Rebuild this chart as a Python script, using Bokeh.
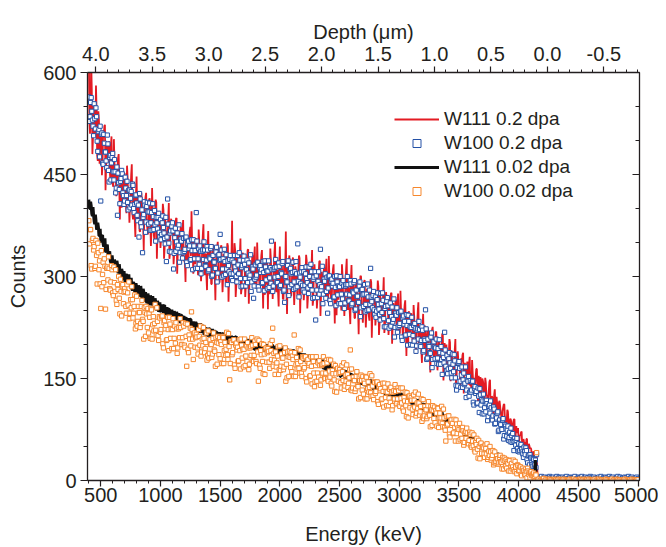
import numpy as np
from bokeh.plotting import figure
from bokeh.models import (Range1d, LinearAxis, SingleIntervalTicker, PrintfTickFormatter,
                          Legend, LegendItem)
from bokeh.embed import file_html
from bokeh.resources import INLINE

# ---------------- data: counts per channel ----------------
# set "a": channels at 400, 410, 420 ... keV ; set "b": channels at 405, 415, 425 ... keV
energy_start = 400
energy_step = 10
offset_b = 5

w111_02 = [
    640, 510, 616, 480, 556, 506, 581, 478, 543, 466,
    509, 449, 515, 521, 427, 498, 468, 499, 442, 506,
    436, 502, 440, 418, 460, 480, 384, 441, 458, 412,
    452, 407, 463, 413, 379, 429, 465, 384, 416, 358,
    447, 380, 406, 366, 423, 387, 339, 407, 423, 371,
    375, 415, 345, 430, 386, 352, 413, 326, 396, 384,
    342, 382, 407, 326, 386, 366, 349, 408, 334, 385,
    368, 318, 375, 385, 304, 368, 344, 373, 326, 383,
    323, 292, 330, 313, 353, 373, 396, 341, 358, 318,
    356, 316, 369, 323, 293, 342, 377, 302, 333, 280,
    367, 301, 328, 289, 347, 312, 265, 334, 351, 300,
    305, 346, 277, 333, 320, 287, 349, 263, 334, 323,
    382, 324, 349, 270, 330, 312, 296, 356, 283, 335,
    319, 270, 328, 339, 260, 324, 301, 332, 285, 344,
    285, 350, 294, 277, 318, 339, 253, 310, 327, 288,
    252, 288, 341, 296, 267, 316, 351, 277, 309, 256,
    344, 279, 306, 267, 325, 366, 245, 314, 331, 280,
    286, 328, 258, 315, 302, 269, 331, 246, 316, 306,
    265, 307, 332, 253, 313, 295, 279, 339, 266, 318,
    302, 253, 311, 322, 242, 307, 283, 314, 267, 326,
    266, 330, 274, 257, 298, 318, 231, 288, 305, 266,
    304, 264, 318, 272, 242, 291, 326, 251, 282, 230,
    317, 251, 278, 239, 296, 262, 215, 283, 300, 249,
    254, 295, 225, 282, 268, 235, 296, 210, 281, 270,
    228, 269, 294, 214, 274, 256, 239, 299, 225, 277,
    259, 214, 268, 275, 201, 261, 240, 266, 222, 275,
    220, 279, 226, 208, 245, 265, 183, 235, 249, 211,
    246, 209, 258, 215, 186, 230, 262, 194, 222, 173,
    245, 193, 212, 182, 225, 198, 159, 214, 226, 184,
    186, 219, 162, 206, 193, 168, 216, 147, 202, 191,
    158, 191, 208, 146, 191, 176, 163, 208, 151, 190,
    175, 139, 180, 185, 128, 173, 155, 175, 141, 182,
    140, 177, 141, 130, 153, 164, 111, 143, 152, 127,
    147, 124, 151, 125, 108, 132, 148, 107, 122, 93,
    134, 102, 113, 93, 117, 99, 75, 107, 112, 86,
    87, 101, 71, 91, 83, 69, 90, 54, 80, 72,
    58, 67, 71, 48, 61, 55, 48, 61, 40, 51,
    48, 35, 41, 27, 38, 43,
    0, 0, 1, 0, 0, 0, 1, 0, 0, 0,
    0, 1, 0, 0, 0, 0, 0, 1, 0, 0,
    0, 0, 0, 1, 0, 0, 0, 0, 1, 0,
    0, 0, 1, 0, 0, 0, 0, 0, 0, 1,
    0, 0, 0, 0, 1, 0, 0, 0, 0, 0,
    1, 0, 0, 0, 0, 0, 1, 0, 0, 0,
    0, 0, 1, 0, 0, 0, 0, 0, 1, 0,
    0, 0, 0, 0, 0, 1, 0, 0, 0, 0,
    0, 1, 0, 0, 0,
]

w111_02_b = [
    529, 551, 574, 504, 531, 511, 545, 470, 529, 512,
    509, 467, 504, 523, 463, 472, 487, 460, 492, 438,
    432, 467, 455, 433, 474, 434, 458, 401, 442, 451,
    440, 393, 445, 416, 404, 450, 392, 417, 380, 422,
    399, 422, 367, 414, 405, 378, 396, 417, 380, 362,
    413, 378, 368, 392, 360, 393, 409, 363, 374, 393,
    355, 375, 398, 342, 367, 354, 385, 326, 377, 366,
    367, 334, 367, 386, 335, 346, 361, 339, 369, 324,
    320, 354, 345, 326, 366, 330, 354, 304, 343, 354,
    345, 302, 352, 326, 316, 362, 309, 333, 300, 340,
    319, 343, 289, 337, 329, 303, 322, 344, 308, 291,
    343, 309, 300, 325, 294, 328, 345, 300, 312, 332,
    295, 317, 340, 286, 311, 300, 332, 274, 326, 316,
    318, 286, 320, 340, 291, 302, 318, 298, 328, 285,
    282, 317, 309, 290, 331, 296, 322, 273, 312, 324,
    316, 274, 324, 299, 290, 336, 283, 308, 276, 316,
    296, 321, 267, 315, 307, 282, 302, 324, 288, 271,
    324, 291, 281, 307, 276, 310, 327, 283, 294, 315,
    278, 300, 323, 269, 294, 283, 315, 257, 309, 299,
    301, 269, 303, 323, 273, 285, 300, 280, 310, 267,
    263, 297, 289, 270, 311, 273, 300, 243, 290, 302,
    293, 250, 301, 275, 265, 311, 258, 284, 249, 295,
    269, 293, 239, 292, 280, 253, 273, 301, 254, 232,
    292, 258, 248, 274, 242, 276, 292, 247, 259, 279,
    241, 262, 285, 230, 255, 244, 275, 217, 268, 258,
    260, 229, 260, 276, 231, 240, 254, 235, 262, 221,
    216, 248, 239, 221, 258, 225, 247, 200, 236, 245,
    237, 198, 242, 219, 208, 249, 200, 221, 191, 226,
    208, 228, 180, 220, 212, 190, 204, 222, 190, 175,
    218, 189, 180, 201, 172, 201, 214, 175, 184, 200,
    168, 185, 203, 157, 177, 166, 193, 142, 185, 176,
    176, 149, 175, 188, 150, 157, 167, 151, 173, 139,
    136, 158, 151, 137, 164, 138, 154, 117, 144, 150,
    142, 114, 144, 126, 119, 145, 111, 124, 103, 126,
    112, 123, 92, 115, 109, 94, 102, 112, 90, 79,
    104, 86, 80, 89, 72, 86, 90, 68, 70, 77,
    59, 66, 72, 49, 57, 50, 61, 35, 54, 47,
    46, 33, 43, 30, 36,
]

w100_02 = [
    564, 535, 563, 530, 507, 532, 548, 499, 513, 476,
    411, 511, 465, 496, 483, 460, 495, 439, 478, 467,
    481, 442, 454, 430, 390, 438, 407, 444, 451, 419,
    411, 430, 440, 398, 427, 415, 405, 434, 394, 419,
    408, 382, 358, 414, 373, 335, 391, 405, 380, 409,
    377, 408, 379, 368, 388, 397, 352, 379, 387, 365,
    384, 362, 389, 364, 348, 322, 414, 349, 364, 336,
    379, 311, 357, 337, 364, 346, 321, 355, 363, 335,
    337, 357, 321, 349, 341, 324, 354, 310, 345, 338,
    394, 312, 341, 345, 304, 337, 325, 339, 315, 344,
    308, 328, 341, 300, 331, 321, 312, 343, 305, 332,
    362, 339, 311, 301, 322, 332, 288, 316, 325, 304,
    324, 304, 331, 308, 292, 317, 335, 297, 313, 286,
    330, 297, 310, 291, 320, 302, 278, 314, 268, 296,
    299, 320, 285, 313, 306, 290, 322, 279, 314, 308,
    308, 284, 313, 352, 278, 311, 299, 314, 291, 320,
    285, 306, 319, 278, 262, 300, 292, 323, 285, 312,
    288, 321, 292, 283, 304, 348, 270, 299, 307, 287,
    307, 287, 314, 291, 275, 300, 318, 280, 296, 269,
    236, 280, 293, 274, 340, 285, 260, 296, 304, 278,
    246, 300, 265, 293, 286, 269, 300, 257, 292, 286,
    285, 260, 290, 294, 253, 286, 274, 288, 264, 294,
    258, 278, 291, 250, 280, 271, 262, 292, 254, 281,
    256, 288, 259, 250, 270, 280, 312, 263, 272, 251,
    270, 249, 276, 252, 236, 260, 276, 238, 253, 226,
    269, 235, 247, 227, 255, 237, 211, 246, 254, 226,
    228, 248, 211, 239, 230, 213, 244, 199, 234, 226,
    225, 199, 228, 231, 190, 221, 208, 222, 197, 226,
    189, 208, 251, 178, 208, 197, 187, 217, 178, 204,
    179, 208, 180, 171, 188, 197, 156, 181, 218, 168,
    184, 164, 188, 165, 151, 171, 185, 151, 133, 139,
    175, 146, 155, 137, 158, 143, 122, 148, 153, 130,
    130, 145, 115, 135, 128, 113, 136, 100, 126, 119,
    117, 98, 117, 118, 88, 109, 99, 107, 89, 108,
    83, 94, 99, 72, 89, 82, 75, 91, 66, 80,
    65, 80, 63, 57, 66, 69, 44, 57, 59, 47,
    54, 44, 53, 42, 34, 43, 48, 31, 36, 23,
    34, 23, 32, 21, 30, 38,
    5, 3, 4, 6, 2, 4, 5, 3, 4, 2,
    6, 4, 3, 5, 2, 4, 6, 3, 5, 4,
    2, 5, 3, 4, 6, 3, 2, 5, 4, 3,
    4, 6, 2, 3, 5, 4, 3, 6, 2, 4,
    5, 3, 4, 2, 6, 4, 3, 5, 3, 2,
    4, 5, 3, 6, 2, 4, 3, 5, 4, 2,
    6, 3, 4, 5, 2, 3, 4, 6, 3, 5,
    2, 4, 3, 5, 4, 2, 6, 3, 4, 5,
    3, 2, 4, 5, 3,
]

w100_02_b = [
    528, 556, 543, 521, 554, 517, 535, 484, 516, 521,
    509, 467, 509, 483, 470, 508, 456, 475, 442, 475,
    454, 472, 423, 461, 452, 428, 440, 456, 423, 406,
    446, 419, 409, 427, 401, 425, 436, 400, 406, 420,
    390, 405, 422, 379, 398, 387, 410, 365, 403, 395,
    395, 368, 394, 407, 369, 376, 387, 370, 393, 358,
    354, 379, 372, 356, 387, 358, 377, 337, 367, 374,
    367, 334, 371, 351, 342, 376, 335, 352, 327, 356,
    340, 358, 316, 352, 345, 325, 338, 354, 326, 312,
    352, 326, 318, 337, 312, 339, 351, 316, 324, 339,
    310, 326, 344, 302, 322, 312, 336, 292, 331, 324,
    325, 299, 326, 340, 303, 311, 323, 307, 331, 297,
    294, 321, 314, 300, 331, 304, 324, 285, 316, 324,
    318, 286, 324, 305, 298, 332, 292, 311, 286, 317,
    302, 321, 280, 316, 310, 291, 306, 323, 295, 282,
    323, 298, 290, 310, 286, 313, 325, 291, 300, 315,
    287, 304, 322, 280, 300, 291, 316, 272, 311, 304,
    306, 281, 307, 322, 285, 293, 305, 290, 313, 280,
    277, 304, 297, 283, 314, 287, 307, 268, 299, 307,
    301, 269, 307, 288, 280, 315, 274, 293, 268, 299,
    283, 301, 260, 296, 290, 270, 284, 301, 273, 260,
    300, 274, 267, 286, 261, 288, 300, 265, 273, 289,
    260, 276, 294, 252, 271, 262, 286, 241, 280, 273,
    274, 248, 274, 289, 251, 259, 270, 254, 278, 244,
    240, 266, 259, 244, 275, 247, 265, 226, 256, 264,
    257, 224, 261, 241, 233, 267, 225, 243, 218, 247,
    231, 249, 206, 242, 234, 214, 228, 243, 215, 200,
    240, 213, 205, 223, 198, 223, 234, 199, 206, 221,
    191, 206, 223, 180, 199, 188, 211, 166, 204, 196,
    195, 172, 194, 207, 171, 178, 187, 173, 192, 161,
    157, 179, 173, 158, 186, 160, 176, 140, 166, 173,
    165, 137, 167, 148, 141, 167, 133, 146, 124, 147,
    133, 146, 111, 138, 131, 114, 124, 135, 111, 98,
    127, 107, 101, 113, 94, 111, 117, 91, 95, 105,
    84, 92, 101, 74, 84, 76, 89, 61, 82, 76,
    74, 59, 71, 77, 56, 58, 62, 52, 62, 43,
    42, 51, 46, 39, 49, 38, 44, 26, 37, 38,
    33, 21, 31, 23, 19,
]

w111_002 = [
    413, 400, 404, 389, 390, 377, 382, 371, 373, 360,
    354, 360, 348, 350, 337, 344, 334, 335, 323, 326,
    323, 313, 320, 312, 318, 306, 309, 299, 308, 300,
    296, 302, 291, 300, 290, 293, 283, 290, 284, 285,
    285, 278, 283, 272, 278, 270, 278, 268, 271, 262,
    268, 261, 270, 259, 265, 255, 262, 256, 261, 251,
    249, 256, 250, 257, 246, 251, 245, 252, 240, 249,
    247, 237, 246, 240, 245, 237, 241, 233, 243, 234,
    233, 239, 229, 235, 226, 237, 227, 231, 222, 231,
    231, 222, 226, 218, 227, 220, 227, 216, 223, 214,
    214, 223, 215, 219, 210, 219, 211, 218, 207, 214,
    214, 206, 216, 208, 213, 203, 210, 205, 212, 203,
    203, 210, 200, 211, 202, 207, 198, 208, 199, 204,
    206, 200, 206, 195, 203, 196, 206, 196, 201, 193,
    193, 201, 195, 203, 192, 198, 193, 200, 189, 198,
    196, 190, 199, 190, 197, 187, 195, 190, 196, 185,
    188, 196, 186, 196, 187, 192, 184, 192, 187, 189,
    191, 184, 191, 180, 188, 180, 189, 180, 184, 176,
    179, 185, 176, 182, 174, 184, 174, 179, 170, 180,
    180, 171, 175, 167, 176, 169, 176, 165, 172, 163,
    163, 172, 163, 168, 159, 167, 159, 166, 155, 162,
    162, 153, 164, 155, 160, 150, 157, 151, 159, 149,
    149, 155, 146, 156, 147, 152, 142, 152, 143, 148,
    149, 142, 149, 137, 145, 138, 147, 137, 142, 134,
    133, 140, 135, 142, 131, 137, 131, 138, 127, 136,
    133, 126, 136, 126, 132, 123, 130, 124, 131, 119,
    121, 128, 119, 128, 119, 124, 115, 123, 118, 120,
    121, 114, 120, 110, 117, 109, 118, 108, 113, 104,
    107, 113, 103, 109, 100, 111, 101, 105, 96, 105,
    105, 96, 100, 91, 100, 93, 100, 89, 95, 86,
    86, 94, 85, 89, 80, 88, 79, 86, 76, 80,
    80, 72, 79, 71, 75, 65, 71, 64, 70, 60,
    60, 66, 56, 64, 55, 59, 50, 57, 51, 52,
    52, 46, 51, 42, 47, 41, 46, 39, 41, 35,
    36, 40, 33, 39, 32, 35, 29, 34, 26, 31,
    30, 25, 29, 22, 26, 22, 26, 20, 22, 17,
    17, 20, 17, 20, 14, 17, 13, 16, 11, 14,
    11, 13, 9, 10, 30, 4,
    0, 1, 0, 0, 1, 0, 0, 0, 1, 0,
    0, 0, 1, 0, 0, 1, 0, 0, 0, 0,
    1, 0, 0, 0, 1, 0, 0, 1, 0, 0,
    0, 0, 0, 1, 0, 0, 0, 0, 1, 0,
    0, 1, 0, 0, 0, 0, 1, 0, 0, 0,
    0, 0, 1, 0, 0, 1, 0, 0, 0, 1,
    0, 0, 0, 0, 1, 0, 0, 0, 1, 0,
    0, 1, 0, 0, 0, 0, 0, 1, 0, 0,
    1, 0, 0, 0, 0,
]

w111_002_b = [
    400, 410, 392, 402, 381, 391, 369, 379, 360, 370,
    350, 361, 344, 356, 336, 347, 326, 337, 320, 331,
    312, 325, 310, 323, 305, 318, 298, 311, 295, 308,
    291, 304, 289, 303, 285, 298, 279, 292, 277, 290,
    273, 287, 272, 286, 268, 282, 263, 277, 261, 275,
    258, 272, 258, 271, 254, 268, 250, 264, 248, 262,
    248, 259, 247, 258, 244, 255, 241, 252, 240, 251,
    238, 249, 237, 248, 234, 246, 232, 243, 231, 242,
    229, 240, 228, 239, 225, 237, 223, 234, 222, 233,
    220, 231, 219, 231, 217, 228, 214, 225, 214, 225,
    212, 223, 212, 223, 209, 221, 207, 218, 207, 218,
    205, 217, 205, 217, 203, 215, 201, 213, 201, 213,
    200, 212, 200, 212, 198, 210, 197, 208, 197, 208,
    196, 208, 196, 208, 194, 206, 193, 204, 193, 204,
    192, 204, 192, 204, 190, 202, 189, 200, 189, 200,
    188, 200, 188, 200, 187, 198, 185, 197, 185, 197,
    185, 196, 186, 196, 184, 195, 183, 192, 182, 192,
    181, 191, 182, 191, 180, 190, 177, 187, 176, 187,
    175, 185, 176, 185, 174, 184, 171, 181, 170, 181,
    169, 179, 169, 179, 167, 177, 164, 173, 163, 173,
    161, 171, 161, 171, 159, 169, 156, 165, 155, 165,
    153, 163, 154, 163, 151, 162, 149, 158, 148, 158,
    146, 156, 147, 156, 144, 155, 142, 151, 141, 151,
    139, 149, 140, 149, 137, 148, 135, 144, 134, 144,
    132, 142, 133, 142, 130, 141, 128, 137, 127, 137,
    125, 135, 126, 135, 123, 134, 121, 130, 120, 130,
    119, 127, 119, 127, 117, 126, 115, 123, 114, 122,
    112, 120, 111, 120, 110, 118, 107, 115, 106, 114,
    104, 112, 103, 111, 101, 110, 99, 107, 97, 105,
    95, 103, 94, 102, 92, 100, 89, 97, 87, 95,
    85, 93, 83, 91, 81, 89, 77, 85, 75, 82,
    72, 80, 70, 78, 67, 75, 64, 71, 61, 68,
    60, 65, 58, 63, 54, 59, 51, 55, 49, 53,
    46, 51, 45, 50, 42, 47, 38, 43, 37, 42,
    35, 40, 34, 39, 31, 36, 28, 33, 27, 32,
    25, 30, 24, 29, 21, 27, 19, 24, 18, 23,
    17, 20, 16, 20, 14, 18, 12, 16, 12, 15,
    10, 13, 8, 12, 6,
]

w100_002 = [
    382, 369, 316, 353, 339, 312, 353, 289, 335, 323,
    253, 285, 321, 326, 252, 312, 295, 312, 280, 316,
    276, 314, 278, 265, 288, 300, 245, 278, 286, 260,
    282, 256, 288, 258, 238, 266, 285, 239, 256, 223,
    271, 234, 247, 225, 256, 237, 208, 247, 256, 225,
    217, 240, 253, 208, 241, 231, 221, 254, 213, 241,
    218, 241, 201, 232, 223, 206, 240, 191, 230, 223,
    222, 194, 227, 232, 187, 223, 210, 225, 200, 232,
    199, 231, 168, 193, 214, 224, 248, 208, 216, 196,
    215, 195, 222, 199, 183, 208, 225, 188, 203, 177,
    220, 187, 200, 181, 209, 192, 168, 203, 212, 185,
    179, 200, 212, 172, 203, 193, 185, 216, 148, 205,
    185, 206, 170, 199, 192, 175, 207, 164, 199, 193,
    193, 169, 198, 203, 163, 195, 184, 199, 175, 205,
    175, 208, 146, 170, 191, 201, 157, 186, 194, 174,
    194, 174, 201, 178, 224, 187, 156, 167, 183, 156,
    198, 168, 180, 163, 188, 146, 151, 182, 190, 166,
    160, 178, 214, 153, 181, 172, 165, 192, 158, 182,
    164, 182, 150, 175, 169, 153, 182, 142, 175, 138,
    169, 146, 173, 176, 140, 169, 158, 172, 150, 177,
    149, 178, 152, 143, 162, 171, 131, 157, 164, 146,
    163, 144, 169, 147, 134, 155, 170, 137, 151, 192,
    164, 136, 147, 131, 153, 140, 120, 147, 155, 133,
    127, 143, 153, 120, 145, 137, 129, 154, 124, 145,
    128, 144, 116, 138, 132, 119, 143, 108, 137, 131,
    130, 110, 134, 137, 104, 130, 120, 131, 113, 136,
    111, 136, 114, 106, 122, 130, 94, 116, 124, 107,
    122, 105, 126, 108, 95, 114, 127, 96, 109, 87,
    119, 95, 104, 91, 110, 97, 79, 104, 110, 91,
    85, 99, 107, 78, 99, 92, 84, 105, 78, 58,
    81, 95, 68, 87, 81, 69, 90, 58, 83, 77,
    75, 60, 76, 78, 52, 70, 62, 70, 54, 71,
    51, 70, 51, 45, 56, 62, 33, 50, 54, 40,
    50, 39, 52, 39, 31, 43, 50, 30, 37, 23,
    42, 28, 32, 24, 34, 27, 17, 30, 33, 21,
    18, 25, 30, 14, 25, 20, 16, 28, 13, 23,
    14, 20, 9, 17, 14, 9, 17, 4, 14, 12,
    12, 7, 10, 5, 9, 41,
    1, 2, 0, 1, 1, 3, 0, 2, 1, 0,
    2, 1, 1, 0, 2, 1, 0, 1, 2, 1,
    0, 1, 2, 1, 0, 0, 1, 2, 1, 1,
    2, 0, 1, 1, 0, 2, 1, 0, 1, 2,
    1, 1, 0, 2, 1, 0, 1, 1, 2, 0,
    1, 2, 1, 0, 1, 1, 0, 2, 1, 1,
    0, 1, 2, 0, 1, 1, 2, 1, 0, 1,
    1, 0, 1, 2, 1, 0, 1, 1, 0, 2,
    1, 1, 0, 1, 1,
]

w100_002_b = [
    348, 369, 311, 356, 344, 315, 331, 349, 310, 289,
    338, 303, 291, 315, 281, 314, 329, 282, 292, 310,
    272, 291, 310, 259, 281, 268, 296, 242, 288, 277,
    278, 246, 276, 292, 246, 254, 266, 246, 273, 231,
    227, 256, 247, 231, 265, 234, 254, 212, 245, 253,
    245, 209, 251, 229, 220, 259, 214, 234, 206, 239,
    222, 242, 195, 235, 228, 207, 222, 240, 209, 194,
    238, 209, 202, 223, 195, 225, 238, 200, 210, 227,
    196, 212, 230, 188, 208, 198, 222, 178, 217, 210,
    211, 186, 212, 227, 189, 198, 209, 194, 217, 184,
    180, 207, 200, 186, 217, 190, 210, 171, 202, 210,
    204, 172, 210, 191, 184, 218, 178, 197, 172, 203,
    188, 207, 165, 202, 196, 176, 191, 208, 180, 167,
    208, 183, 175, 195, 171, 197, 210, 176, 184, 200,
    172, 189, 206, 165, 185, 175, 200, 156, 195, 188,
    190, 165, 191, 206, 168, 177, 189, 173, 197, 163,
    162, 186, 180, 167, 195, 171, 189, 153, 181, 188,
    183, 153, 188, 170, 164, 194, 158, 175, 153, 180,
    166, 182, 145, 178, 172, 154, 168, 182, 158, 145,
    182, 158, 152, 169, 148, 171, 182, 151, 158, 173,
    146, 161, 177, 139, 157, 148, 169, 130, 165, 158,
    159, 136, 160, 173, 139, 146, 156, 143, 163, 133,
    132, 152, 147, 135, 160, 138, 153, 122, 147, 153,
    147, 120, 152, 135, 130, 157, 124, 139, 119, 144,
    131, 145, 112, 141, 135, 120, 131, 143, 122, 110,
    142, 121, 115, 130, 110, 132, 141, 113, 120, 132,
    109, 121, 136, 102, 117, 110, 129, 92, 124, 118,
    118, 97, 118, 130, 99, 106, 114, 101, 120, 93,
    91, 109, 104, 94, 116, 96, 109, 81, 103, 108,
    103, 80, 106, 92, 86, 109, 79, 92, 74, 94,
    83, 95, 64, 89, 84, 70, 78, 89, 69, 58,
    84, 68, 62, 73, 56, 72, 77, 56, 59, 68,
    49, 58, 67, 42, 53, 46, 59, 32, 55, 49,
    48, 34, 47, 54, 34, 37, 42, 33, 44, 26,
    26, 36, 32, 26, 37, 27, 34, 17, 29, 31,
    28, 14, 29, 21, 17, 30, 13, 20, 10, 22,
    15, 20, 7, 18, 15, 9, 13, 18, 9, 4,
    13, 8, 11, 6, 8,
]

series_labels = ["W111 0.2 dpa", "W100 0.2 dpa", "W111 0.02 dpa", "W100 0.02 dpa"]
energy_ticks_interval = 500
count_ticks_interval = 150
depth_ticks_interval = 0.5

RED = "#e31b23"
BLUE = "#2451a6"
BLACK = "#111111"
ORANGE = "#f6872d"
AX = "#231f20"
FONT = "Liberation Sans"


def channels(a, b):
    """Merge the two channel sets of one spectrum, ordered by energy."""
    ea = energy_start + energy_step * np.arange(len(a))
    eb = energy_start + offset_b + energy_step * np.arange(len(b))
    e = np.concatenate([ea, eb])
    v = np.concatenate([np.asarray(a, float), np.asarray(b, float)])
    order = np.argsort(e, kind="stable")
    return e[order], v[order]


p = figure(width=658, height=547, output_backend="svg", toolbar_location=None,
           x_range=Range1d(389, 5012), y_range=Range1d(0, 600),
           min_border_left=87, min_border_right=19, min_border_top=72, min_border_bottom=66,
           background_fill_color="white", border_fill_color="white")
p.outline_line_color = None
p.xgrid.visible = False
p.ygrid.visible = False
p.extra_x_ranges = {"depth": Range1d(4.0735, -0.816)}

x_r, y_r = channels(w111_02, w111_02_b)
x_b, y_b = channels(w100_02, w100_02_b)
x_k, y_k = channels(w111_002, w111_002_b)
x_o, y_o = channels(w100_002, w100_002_b)

r_red = p.line(x_r, y_r, line_color=RED, line_width=1.8)
r_blue = p.scatter(x_b, y_b, marker="square", size=4.2,
                   line_color=BLUE, fill_color="white", line_width=1)
r_black = p.line(x_k, y_k, line_color=BLACK, line_width=3.0)
r_orange = p.scatter(x_o, y_o, marker="square", size=4.3,
                     line_color=ORANGE, fill_color="white", line_width=1)


def style(ax):
    ax.axis_line_color = AX
    ax.axis_line_width = 1.3
    ax.major_tick_line_color = AX
    ax.minor_tick_line_color = AX
    ax.major_tick_line_width = 1.2
    ax.minor_tick_line_width = 1.0
    ax.major_label_text_font = FONT
    ax.major_label_text_font_size = "20px"
    ax.major_label_text_color = AX
    ax.axis_label_text_font = FONT
    ax.axis_label_text_font_size = "20px"
    ax.axis_label_text_font_style = "normal"
    ax.axis_label_text_color = AX


# bottom axis
xb = p.xaxis[0]
xb.ticker = SingleIntervalTicker(interval=energy_ticks_interval, num_minor_ticks=5)
xb.axis_label = "Energy (keV)"
style(xb)
xb.major_tick_out = 6
xb.major_tick_in = 0
xb.minor_tick_out = 3
xb.minor_tick_in = 0
xb.major_label_standoff = 1
xb.axis_label_standoff = 18

# left axis
yl = p.yaxis[0]
yl.ticker = SingleIntervalTicker(interval=count_ticks_interval, num_minor_ticks=3)
yl.axis_label = "Counts"
style(yl)
yl.major_tick_out = 7
yl.major_tick_in = 0
yl.minor_tick_out = 4
yl.minor_tick_in = 0
yl.major_label_standoff = 4
yl.axis_label_standoff = 11

# top axis (depth)
xt = LinearAxis(x_range_name="depth",
                ticker=SingleIntervalTicker(interval=depth_ticks_interval, num_minor_ticks=5),
                formatter=PrintfTickFormatter(format="%.1f"),
                axis_label="Depth (\u03bcm)")
style(xt)
xt.major_tick_out = 6
xt.major_tick_in = 0
xt.minor_tick_out = 3
xt.minor_tick_in = 0
xt.major_label_standoff = 6
xt.axis_label_standoff = 1
p.add_layout(xt, "above")

# right axis (ticks only, inward)
yr = LinearAxis(ticker=SingleIntervalTicker(interval=count_ticks_interval, num_minor_ticks=3),
                major_label_overrides={0: "", 150: "", 300: "", 450: "", 600: ""})
style(yr)
yr.major_tick_in = 7
yr.major_tick_out = 0
yr.minor_tick_in = 4
yr.minor_tick_out = 0
yr.major_label_standoff = 0
p.add_layout(yr, "right")

legend = Legend(
    items=[LegendItem(label=series_labels[0], renderers=[r_red]),
           LegendItem(label=series_labels[1], renderers=[r_blue]),
           LegendItem(label=series_labels[2], renderers=[r_black]),
           LegendItem(label=series_labels[3], renderers=[r_orange])],
    location=(307, 278), orientation="vertical",
    label_text_font=FONT, label_text_font_size="19px", label_text_color=AX,
    glyph_width=45, glyph_height=20, label_height=20, spacing=2, label_standoff=5,
    padding=0, margin=0, border_line_color=None, background_fill_alpha=0,
)
p.add_layout(legend)

open("out.html", "w").write(file_html(p, INLINE))
